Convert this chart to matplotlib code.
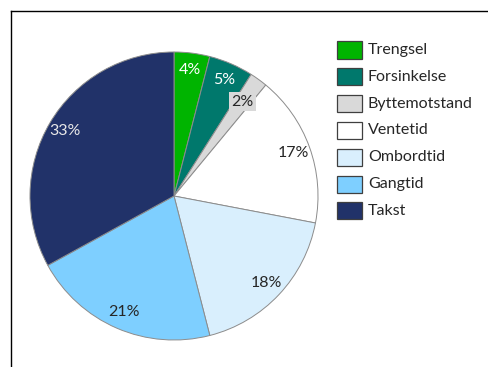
import numpy as np
import matplotlib
matplotlib.use("Agg")
import matplotlib.pyplot as plt
from matplotlib.patches import Rectangle
from matplotlib.lines import Line2D

plt.rcParams['font.family'] = ['Lato', 'DejaVu Sans']

labels = ["Trengsel", "Forsinkelse", "Byttemotstand", "Ventetid",
          "Ombordtid", "Gangtid", "Takst"]
shares = [4, 5, 2, 17, 18, 21, 33]
colors = ["#00b400", "#00786c", "#d9d9d9", "#ffffff",
          "#d9effd", "#7ecfff", "#213269"]
text_colors = ["white", "white", "#262626", "#262626",
               "#262626", "#262626", "#e8e8e8"]

W, H = 489, 367
fig = plt.figure(figsize=(W / 100, H / 100), dpi=100)

# pie centre (174, 196) px, radius 144 px
cx, cy, r = 174, 196, 144
ax = fig.add_axes([(cx - r) / W, (H - cy - r) / H, 2 * r / W, 2 * r / H])
wedges, _ = ax.pie(shares, colors=colors, startangle=90, counterclock=False,
                   wedgeprops=dict(edgecolor="#8c8c8c", linewidth=0.7))
ax.set_xlim(-1, 1)
ax.set_ylim(-1, 1)
ax.set_aspect("equal")
ax.axis("off")

# percentage labels
for i, (s, w) in enumerate(zip(shares, wedges)):
    mid = np.deg2rad((w.theta1 + w.theta2) / 2)
    d = 0.81 if labels[i] == "Byttemotstand" else 0.88
    kw = {}
    if labels[i] == "Byttemotstand":
        kw["bbox"] = dict(boxstyle="square,pad=0.15", facecolor="#d9d9d9",
                          edgecolor="none")
    ax.text(d * np.cos(mid), d * np.sin(mid), f"{s}%", ha="center",
            va="center", fontsize=11.5, color=text_colors[i], **kw)

# legend drawn by hand
for i, (lab, col) in enumerate(zip(labels, colors)):
    y = 50 + i * 26.8
    fig.patches.append(Rectangle((337 / W, 1 - (y + 8.5) / H), 25 / W, 17 / H,
                                 facecolor=col, edgecolor="#3f3f3f",
                                 linewidth=0.9, transform=fig.transFigure))
    fig.text(368 / W, 1 - y / H, lab, ha="left", va="center",
             fontsize=11.5, color="#262626")

# outer frame (left and top edges)
fig.add_artist(Line2D([11.5 / W, 11.5 / W], [0, 1 - 10.5 / H], color="black",
                      linewidth=1.0, transform=fig.transFigure))
fig.add_artist(Line2D([11.5 / W, 1], [1 - 10.5 / H, 1 - 10.5 / H],
                      color="black", linewidth=1.0, transform=fig.transFigure))

fig.savefig("out.png", dpi=100)
